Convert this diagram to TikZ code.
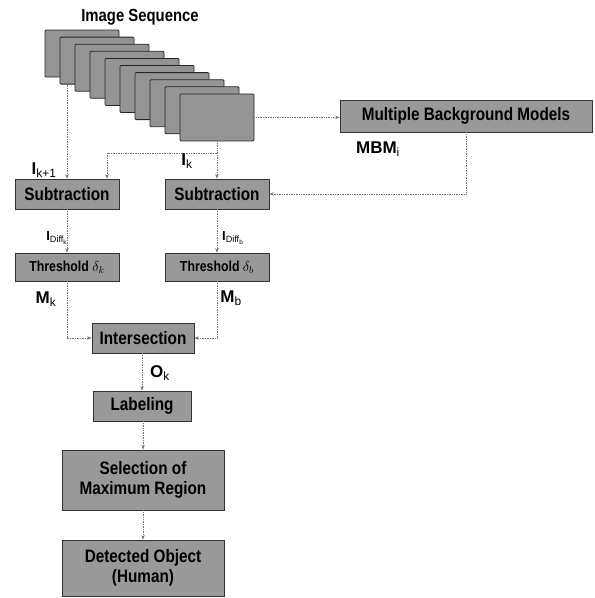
\documentclass[tikz,border=0pt]{standalone}
\usepackage{fontspec}
\setmainfont{Liberation Sans}
\setsansfont{Liberation Sans}
\newfontfamily\boxfont{Liberation Sans}[FakeStretch=0.85]
\newfontfamily\labfont{Liberation Sans}
\usetikzlibrary{arrows.meta}
\tikzset{
  boxstyle/.style={draw=black!80, line width=0.7pt, fill=black!40, inner sep=0pt, align=center,
     font=\boxfont\bfseries\fontsize{18}{20}\selectfont},
  smallbox/.style={boxstyle, font=\boxfont\bfseries\fontsize{14.5}{16}\selectfont},
  framebox/.style={draw=black!85, line width=0.8pt, fill=black!42, inner sep=0pt,
     minimum width=74, minimum height=47, rounded corners=1pt},
  conn/.style={draw=black!55, line width=0.7pt, densely dotted, -{Stealth[length=4.5pt,width=3.5pt]}},
  plain/.style={draw=black!55, line width=0.7pt, densely dotted},
  lab/.style={font=\labfont\bfseries\fontsize{17}{19}\selectfont, inner sep=0pt}
}
\begin{document}
\begin{tikzpicture}[x=1pt,y=-1pt]
\useasboundingbox (0,0) rectangle (595,598);
% title
\node[font=\boxfont\bfseries\fontsize{17.5}{19}\selectfont, inner sep=0pt] (title) at (140,17) {Image Sequence};
% frames
\foreach \i in {0,...,9} {
  \node[framebox] (f\i) at ({82+15*\i},{53.5+7.1*\i}) {};
}
% boxes
\node[boxstyle, minimum width=252, minimum height=32] (mbm) at (466,116) {Multiple Background Models};
\node[boxstyle, minimum width=104, minimum height=30] (subl) at (67,194) {Subtraction};
\node[boxstyle, minimum width=104, minimum height=30] (subr) at (217,194) {Subtraction};
\node[smallbox, minimum width=104, minimum height=28] (thl) at (67,267) {Threshold $\delta_k$};
\node[smallbox, minimum width=104, minimum height=28] (thr) at (217,267) {Threshold $\delta_b$};
\node[boxstyle, minimum width=102, minimum height=30] (inter) at (143,338) {Intersection};
\node[boxstyle, minimum width=98, minimum height=30] (lab) at (142,406) {Labeling};
\node[boxstyle, minimum width=162, minimum height=60] (sel) at (143,480) {Selection of\\Maximum Region};
\node[boxstyle, minimum width=162, minimum height=56] (det) at (143,568) {Detected Object\\(Human)};
% connectors
\draw[conn] (f9.east) -- (f9.east -| mbm.west);
\draw[conn] (subl.north |- f1.south) -- (subl.north);
\draw[conn] (f9.south) -- (f9.south |- subr.north);
\coordinate (b1) at (217,153);
\coordinate (b2) at (107,153);
\draw[plain] (b1) -- (b2);
\draw[conn] (b2) -- (b2 |- subl.north);
\draw[conn] (mbm.south) |- (subr.east);
\draw[conn] (subl.south) -- (thl.north);
\draw[conn] (subr.south) -- (thr.north);
\draw[conn] (thl.south) |- (inter.west);
\draw[conn] (thr.south) |- (inter.east);
\draw[conn] (inter.south -| lab.north) -- (lab.north);
\draw[conn] (lab.south -| sel.north) -- (sel.north);
\draw[conn] (sel.south) -- (det.north);
% labels
\node[lab] (lk1) at (44,170) {I\textsubscript{\labfont\mdseries k+1}};
\node[lab] (lk) at (187,161) {I\textsubscript{\labfont\mdseries k}};
\node[lab] (lmbm) at (378,149) {MBM\textsubscript{\labfont\mdseries i}};
\node[lab] (ldk) at (57,238) {\fontsize{13}{15}\selectfont I\textsubscript{\labfont\mdseries Diff\textsubscript{k}}};
\node[lab] (ldb) at (233,238) {\fontsize{13}{15}\selectfont I\textsubscript{\labfont\mdseries Diff\textsubscript{b}}};
\node[lab] (lmk) at (46,299) {M\textsubscript{\labfont\mdseries k}};
\node[lab] (lmb) at (231,298) {M\textsubscript{\labfont\mdseries b}};
\node[lab] (lok) at (160,373) {O\textsubscript{\labfont\mdseries k}};
\end{tikzpicture}
\end{document}
